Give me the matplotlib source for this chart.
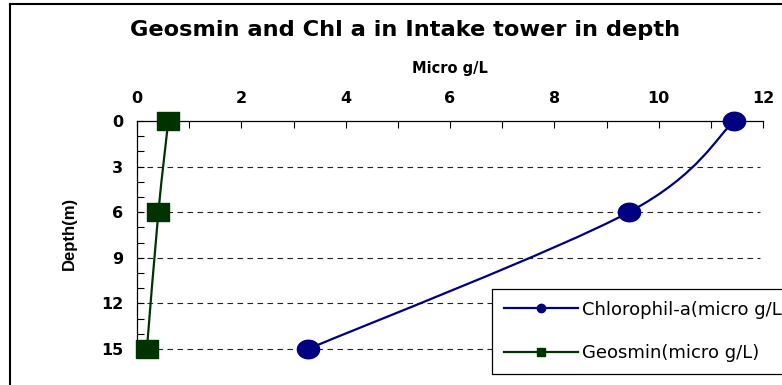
import numpy as np
import matplotlib
matplotlib.use("Agg")
import matplotlib.pyplot as plt
from matplotlib.path import Path
from matplotlib.lines import Line2D
from matplotlib.patches import PathPatch
from matplotlib.ticker import MultipleLocator

plt.rcParams['font.family'] = ['DejaVu Sans']

# ---- data ----
depth = [0, 6, 15]
chl = [11.45, 9.43, 3.28]
geosmin = [0.6, 0.41, 0.19]
chl_label = "Chlorophil-a(micro g/L)"
geo_label = "Geosmin(micro g/L)"
title = "Geosmin and Chl a in Intake tower in depth"
xlabel = "Micro g/L"
ylabel = "Depth(m)"

W, H = 782, 385
fig = plt.figure(figsize=(W / 100, H / 100), dpi=100)
ax = fig.add_axes([137 / W, 1 - 349 / H, (763 - 137) / W, (349 - 121) / H])


def smooth_path(xs, ys):
    # Excel-like smoothed line (Catmull-Rom as cubic Bezier)
    pts = np.column_stack([xs, ys]).astype(float)
    n = len(pts)
    verts = [pts[0]]
    codes = [Path.MOVETO]
    for i in range(n - 1):
        p0 = pts[i - 1] if i > 0 else pts[i]
        p1 = pts[i]
        p2 = pts[i + 1]
        p3 = pts[i + 2] if i + 2 < n else pts[i + 1]
        c1 = p1 + (p2 - p0) / 6.0
        c2 = p2 - (p3 - p1) / 6.0
        verts += [c1, c2, p2]
        codes += [Path.CURVE4] * 3
    return Path(verts, codes)


chl_color = '#000080'
geo_color = '#003300'

ax.add_patch(PathPatch(smooth_path(chl, depth), fill=False, edgecolor=chl_color, lw=1.6, zorder=3))
ax.add_patch(PathPatch(smooth_path(geosmin, depth), fill=False, edgecolor=geo_color, lw=1.6, zorder=3))

t = np.linspace(0, 2 * np.pi, 40)
ell = list(zip(1.2 * np.cos(t), np.sin(t)))
sq = [(-1.3, -1), (1.3, -1), (1.3, 1), (-1.3, 1), (-1.3, -1)]

ax.plot(chl, depth, linestyle='none', marker=ell, markersize=16, color=chl_color, zorder=4, clip_on=False)
ax.plot(geosmin, depth, linestyle='none', marker=sq, markersize=16, color=geo_color, zorder=4, clip_on=False)

ax.set_xlim(0, 12)
ax.set_ylim(15, 0)
ax.xaxis.tick_top()
ax.xaxis.set_label_position('top')
ax.xaxis.set_major_locator(MultipleLocator(2))
ax.xaxis.set_minor_locator(MultipleLocator(1))
ax.yaxis.set_major_locator(MultipleLocator(3))
ax.yaxis.set_minor_locator(MultipleLocator(1))
ax.tick_params(which='both', direction='in', length=5, width=0.8, color='black')
ax.tick_params(axis='x', which='major', pad=11, labelsize=11.5)
ax.tick_params(axis='y', which='major', pad=10, labelsize=11.5)
for lab in ax.get_xticklabels() + ax.get_yticklabels():
    lab.set_fontweight('bold')

for s in ['right', 'bottom']:
    ax.spines[s].set_visible(False)
for s in ['left', 'top']:
    ax.spines[s].set_linewidth(0.9)

for d in [3, 6, 9, 12, 15]:
    ax.axhline(d, xmin=0, xmax=0.995, color='#222222', lw=0.8, dashes=(5, 4), zorder=1, clip_on=False)

ax.set_xlabel(xlabel, fontsize=10.5, fontweight='bold', labelpad=13)
fig.text(69 / W, 1 - 233 / H, ylabel, rotation=90, ha='center', va='center',
         fontsize=12, fontweight='bold', family=['Liberation Sans', 'DejaVu Sans'])
fig.text(405 / W, 1 - 30 / H, title, ha='center', va='center', fontsize=16.2, fontweight='bold')

handles = [Line2D([], [], color=chl_color, lw=1.6, marker='o', markersize=6),
           Line2D([], [], color=geo_color, lw=1.6, marker='s', markersize=6)]
leg = fig.legend(handles, [chl_label, geo_label], loc='upper left',
                 bbox_to_anchor=(492 / W, 1 - 289 / H), fontsize=13,
                 frameon=True, fancybox=False, edgecolor='black', framealpha=1,
                 handlelength=4.1, labelspacing=1.4, borderpad=0.65, handletextpad=0.25,
                 borderaxespad=0)
leg.get_frame().set_linewidth(0.9)

# outer frame (left and top visible)
fig.add_artist(Line2D([10 / W, 10 / W], [0, 1 - 4 / H], color='black', lw=1.5, transform=fig.transFigure))
fig.add_artist(Line2D([10 / W, 1], [1 - 4 / H, 1 - 4 / H], color='black', lw=1.5, transform=fig.transFigure))

fig.savefig('out.png', dpi=100)
